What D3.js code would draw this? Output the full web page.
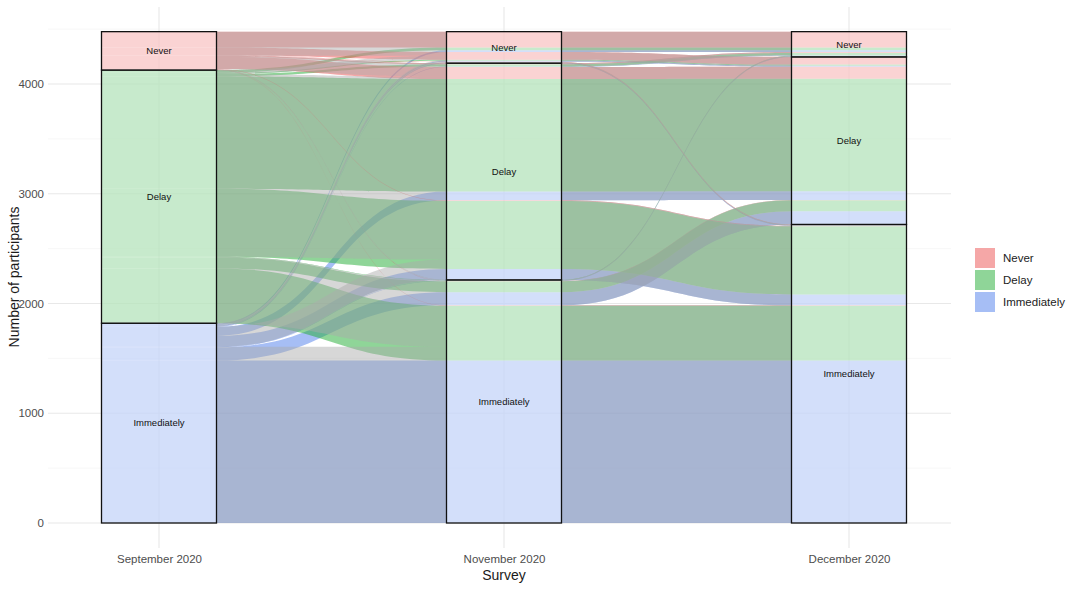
<!DOCTYPE html>
<html><head><meta charset="utf-8">
<script src="https://cdn.jsdelivr.net/npm/d3@7"></script>
<style>
body{margin:0;background:#fff}
svg{display:block}
text{font-family:"Liberation Sans", Arial, Helvetica, sans-serif}
</style>
</head><body>
<svg id="chart" width="1080" height="589"></svg>
<script>
// ---------- data ----------
const surveys = ["September 2020", "November 2020", "December 2020"];
const responses = ["Never", "Delay", "Immediately"];   // legend / stacking order (top to bottom)
const yTicks = [0, 1000, 2000, 3000, 4000];
const yMinor = [500, 1500, 2500, 3500, 4500];

// one entry per participant trajectory (September -> November -> December)
const septResp = ["Immediately","Immediately","Immediately","Immediately","Immediately","Immediately","Immediately","Immediately","Immediately",
                  "Delay","Delay","Delay","Delay","Delay","Delay","Delay","Delay","Delay",
                  "Never","Never","Never","Never","Never","Never","Never","Never"];
const novResp  = ["Immediately","Immediately","Immediately","Delay","Delay","Delay","Never","Never","Never",
                  "Immediately","Immediately","Immediately","Delay","Delay","Delay","Never","Never","Never",
                  "Immediately","Immediately","Delay","Delay","Delay","Never","Never","Never"];
const decResp  = ["Immediately","Delay","Never","Immediately","Delay","Never","Immediately","Delay","Never",
                  "Immediately","Delay","Never","Immediately","Delay","Never","Immediately","Delay","Never",
                  "Immediately","Delay","Immediately","Delay","Never","Immediately","Delay","Never"];
const counts   = [1480, 120, 5, 100, 80, 5, 5, 10, 15,
                  500, 100, 5, 620, 1025, 20, 2, 10, 25,
                  3, 2, 5, 110, 10, 5, 70, 145];

// ---------- styling ----------
const fillColor = {Never: "rgb(236,80,80)", Delay: "rgb(32,172,50)", Immediately: "rgb(78,126,236)"};
const svg = d3.select("#chart");
const panel = {left: 48, right: 951, top: 7, bottom: 548};

const x = d3.scalePoint().domain(surveys).range([159, 849]);
const w = x.step() / 3;
const y = d3.scaleLinear().domain([0, 4000]).range([523, 84]);

// rank from the bottom of the stack
const rank = r => responses.length - 1 - responses.indexOf(r);

const traj = counts.map((n, i) => ({n, s: [septResp[i], novResp[i], decResp[i]]}));

// ---------- alluvium lodes (ordering: stratum, then zigzag neighbours) ----------
const guidance = [[0, 1, 2], [1, 2, 0], [2, 1, 0]];
guidance.forEach((ord, a) => {
  const sorted = traj.slice().sort((p, q) => {
    for (const k of ord) {
      const d = rank(p.s[k]) - rank(q.s[k]);
      if (d) return d;
    }
    return 0;
  });
  let acc = 0;
  sorted.forEach(t => { t["y" + a] = [acc, acc + t.n]; acc += t.n; });
});

// ---------- strata ----------
const strata = [];
[septResp, novResp, decResp].forEach((arr, a) => {
  let acc = 0;
  responses.slice().reverse().forEach(r => {
    const tot = d3.sum(counts.filter((c, i) => arr[i] === r));
    strata.push({a, r, y0: acc, y1: acc + tot});
    acc += tot;
  });
});

// ---------- flows between neighbouring axes (gray layer) ----------
const flows = [];
[0, 1].forEach(a => {
  const groups = d3.rollups(traj, v => d3.sum(v, d => d.n), d => d.s[a], d => d.s[a + 1]);
  const list = [];
  groups.forEach(([s1, inner]) => inner.forEach(([s2, n]) => list.push({a, s1, s2, n})));
  let acc = 0;
  list.slice().sort((p, q) => (rank(p.s1) - rank(q.s1)) || (rank(p.s2) - rank(q.s2)))
      .forEach(f => { f.L = [acc, acc + f.n]; acc += f.n; });
  acc = 0;
  list.slice().sort((p, q) => (rank(p.s2) - rank(q.s2)) || (rank(p.s1) - rank(q.s1)))
      .forEach(f => { f.R = [acc, acc + f.n]; acc += f.n; });
  flows.push(...list);
});

// ---------- gridlines ----------
const grid = svg.append("g");
yMinor.forEach(v => grid.append("line").attr("x1", panel.left).attr("x2", panel.right)
  .attr("y1", y(v)).attr("y2", y(v)).attr("stroke", "#f1f1f1").attr("stroke-width", 0.6));
yTicks.forEach(v => grid.append("line").attr("x1", panel.left).attr("x2", panel.right)
  .attr("y1", y(v)).attr("y2", y(v)).attr("stroke", "#e8e8e8").attr("stroke-width", 1.1));
surveys.forEach(s => grid.append("line").attr("x1", x(s)).attr("x2", x(s))
  .attr("y1", panel.top).attr("y2", panel.bottom).attr("stroke", "#e8e8e8").attr("stroke-width", 1.1));

// ---------- path helpers ----------
const K = 0.5;
function curveTo(xa, ya, xb, yb) {
  const c = (xb - xa) * K;
  return `C${xa + c},${ya} ${xb - c},${yb} ${xb},${yb}`;
}
function alluviumPath(t) {
  const xs = surveys.map(s => x(s));
  const top = [0, 1, 2].map(a => y(t["y" + a][1]));
  const bot = [0, 1, 2].map(a => y(t["y" + a][0]));
  let p = `M${xs[0] - w / 2},${top[0]} H${xs[0] + w / 2}`;
  for (let a = 0; a < 2; a++) {
    p += curveTo(xs[a] + w / 2, top[a], xs[a + 1] - w / 2, top[a + 1]);
    p += ` H${xs[a + 1] + w / 2}`;
  }
  p += ` V${bot[2]} H${xs[2] - w / 2}`;
  for (let a = 2; a > 0; a--) {
    p += curveTo(xs[a] - w / 2, bot[a], xs[a - 1] + w / 2, bot[a - 1]);
    p += ` H${xs[a - 1] - w / 2}`;
  }
  return p + "Z";
}
function flowPath(f) {
  const xa = x(surveys[f.a]) + w / 2, xb = x(surveys[f.a + 1]) - w / 2;
  return `M${xa},${y(f.L[1])}` + curveTo(xa, y(f.L[1]), xb, y(f.R[1])) +
         ` V${y(f.R[0])}` + curveTo(xb, y(f.R[0]), xa, y(f.L[0])) + "Z";
}

// ---------- alluvia ----------
svg.append("g").selectAll("path").data(traj).join("path")
  .attr("d", alluviumPath)
  .attr("fill", d => fillColor[d.s[0]])
  .attr("fill-opacity", 0.5);

// ---------- flows (gray) ----------
svg.append("g").selectAll("path").data(flows).join("path")
  .attr("d", flowPath)
  .attr("fill", "rgb(172,172,172)")
  .attr("fill-opacity", 0.48);

// ---------- strata ----------
const sg = svg.append("g");
sg.selectAll("rect").data(strata).join("rect")
  .attr("x", d => x(surveys[d.a]) - w / 2)
  .attr("width", w)
  .attr("y", d => y(d.y1))
  .attr("height", d => y(d.y0) - y(d.y1))
  .attr("fill", "#fff").attr("fill-opacity", 0.5)
  .attr("stroke", "#111").attr("stroke-width", 1.3);
sg.selectAll("text").data(strata).join("text")
  .attr("x", d => x(surveys[d.a]))
  .attr("y", d => y((d.y0 + d.y1) / 2))
  .attr("dy", "0.35em")
  .attr("text-anchor", "middle")
  .attr("font-size", "9.5px")
  .attr("fill", "#111")
  .text(d => d.r);

// ---------- axes ----------
const yAxis = d3.axisLeft(y).tickValues(yTicks).tickSize(0).tickPadding(4).tickFormat(d3.format("d"));
const ga = svg.append("g").attr("transform", `translate(${panel.left},0)`).call(yAxis);
ga.select(".domain").remove();
ga.selectAll("text").attr("font-size", "11.5px").attr("fill", "#4d4d4d")
  .style("font-family", '"Liberation Sans", Arial, sans-serif');

const xAxis = d3.axisBottom(x).tickSize(0).tickPadding(7);
const gx = svg.append("g").attr("transform", `translate(0,${panel.bottom})`).call(xAxis);
gx.select(".domain").remove();
gx.selectAll("text").attr("font-size", "11.5px").attr("fill", "#4d4d4d")
  .style("font-family", '"Liberation Sans", Arial, sans-serif');

svg.append("text").attr("x", 504).attr("y", 580).attr("text-anchor", "middle")
  .attr("font-size", "14px").attr("fill", "#1a1a1a").text("Survey");
svg.append("text").attr("transform", "translate(19,277) rotate(-90)").attr("text-anchor", "middle")
  .attr("font-size", "14px").attr("fill", "#1a1a1a").text("Number of participants");

// ---------- legend ----------
const lg = svg.append("g").attr("transform", "translate(975,248)");
responses.forEach((r, i) => {
  lg.append("rect").attr("x", 0).attr("y", i * 22).attr("width", 20).attr("height", 20)
    .attr("fill", fillColor[r]).attr("fill-opacity", 0.5);
  lg.append("text").attr("x", 28).attr("y", i * 22 + 10).attr("dy", "0.35em")
    .attr("font-size", "11.5px").attr("fill", "#222").text(r);
});
</script>
</body></html>
